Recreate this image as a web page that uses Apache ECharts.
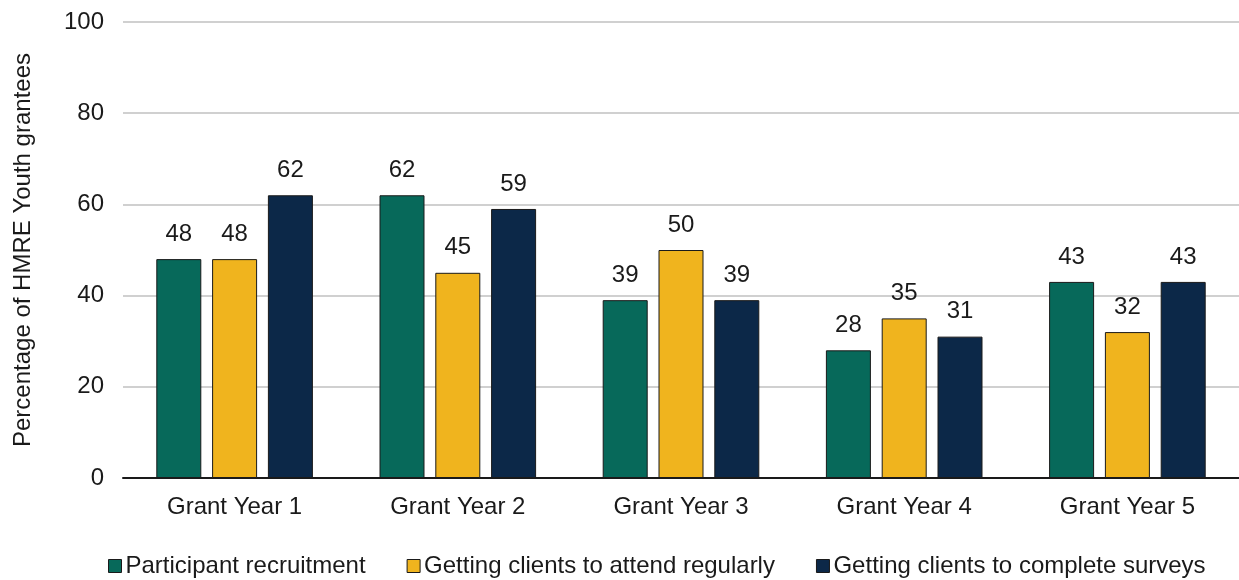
<!DOCTYPE html>
<html>
<head>
<meta charset="utf-8">
<script src="https://cdn.jsdelivr.net/npm/echarts@6/dist/echarts.min.js"></script>
<style>
  html, body { margin: 0; padding: 0; background: #fff; }
  #chart { width: 1239px; height: 580px; }
</style>
</head>
<body>
<div id="chart"></div>
<script>
// Share of HMRE Youth grantees reporting each challenge, by grant year
const categories = ['Grant Year 1', 'Grant Year 2', 'Grant Year 3', 'Grant Year 4', 'Grant Year 5'];
const seriesNames = ['Participant recruitment', 'Getting clients to attend regularly', 'Getting clients to complete surveys'];
const recruitment = [48, 62, 39, 28, 43];
const attendance = [48, 45, 50, 35, 32];
const surveys = [62, 59, 39, 31, 43];
const yTicks = [0, 20, 40, 60, 80, 100];

const colors = ['#07695A', '#F0B41E', '#0C2848'];
const font = 'Liberation Sans, Arial, sans-serif';
const ink = '#1a1a1a';

const chart = echarts.init(document.getElementById('chart'), null, { renderer: 'canvas' });

const makeSeries = (name, data, color) => ({
  name: name,
  type: 'bar',
  data: data,
  barWidth: 45,
  barGap: '24%',
  itemStyle: { color: color, borderColor: ink, borderWidth: 1 },
  label: {
    show: true,
    position: 'top',
    distance: 13,
    color: ink,
    fontFamily: font,
    fontSize: 24
  }
});

chart.setOption({
  animation: false,
  textStyle: { fontFamily: font },
  color: colors,
  grid: { left: 123, right: -2, top: 22, bottom: 102, containLabel: false },
  legend: {
    top: 549,
    left: 103,
    itemWidth: 13,
    itemHeight: 13,
    itemGap: 41,
    icon: 'rect',
    textStyle: { fontFamily: font, fontSize: 24, color: ink, padding: [0, 0, 0, -1] },
    itemStyle: { borderColor: ink, borderWidth: 1 },
    data: seriesNames
  },
  xAxis: {
    type: 'category',
    data: categories,
    axisLine: { lineStyle: { color: ink, width: 2 } },
    axisTick: { show: false },
    axisLabel: { fontFamily: font, fontSize: 24, color: ink, margin: 17 }
  },
  yAxis: {
    type: 'value',
    min: yTicks[0],
    max: yTicks[yTicks.length - 1],
    interval: 20,
    name: 'Percentage of HMRE Youth grantees',
    nameLocation: 'middle',
    nameGap: 88,
    nameTextStyle: { fontFamily: font, fontSize: 24, color: ink },
    axisLine: { show: false },
    axisTick: { show: false },
    axisLabel: { fontFamily: font, fontSize: 24, color: ink, margin: 19 },
    splitLine: { lineStyle: { color: '#d0d0d0', width: 2 } }
  },
  series: [
    makeSeries(seriesNames[0], recruitment, colors[0]),
    makeSeries(seriesNames[1], attendance, colors[1]),
    makeSeries(seriesNames[2], surveys, colors[2])
  ]
});
</script>
</body>
</html>
